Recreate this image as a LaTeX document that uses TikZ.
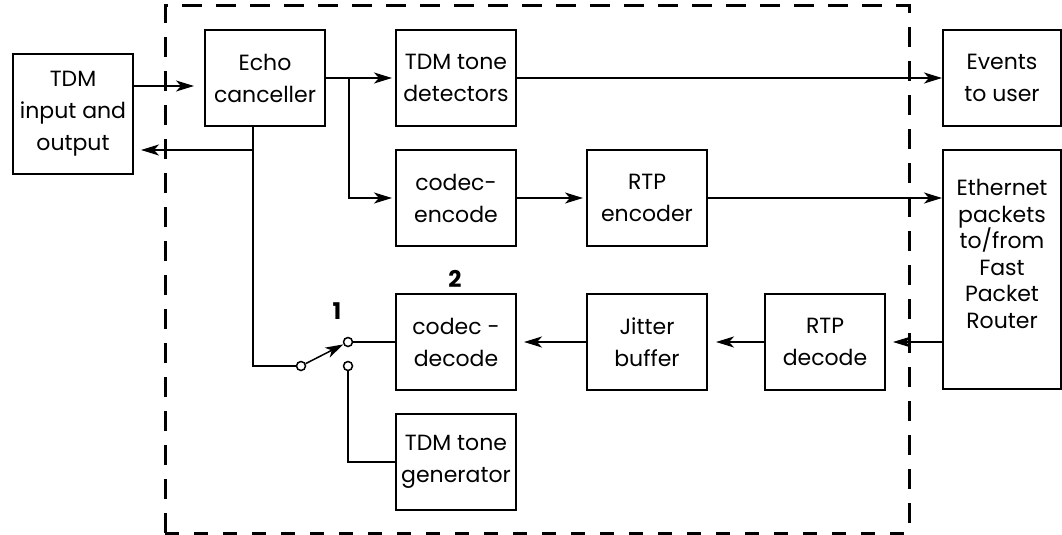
\documentclass[tikz,border=0pt]{standalone}
\usepackage{fontspec}
\setmainfont{Poppins}
\usetikzlibrary{arrows.meta}
\begin{document}
\begin{tikzpicture}[x=1pt,y=-1pt,line width=2pt,
  box/.style={draw,line width=2pt,minimum width=120pt,minimum height=96pt,align=center,inner sep=0pt,font=\fontsize{22}{32}\selectfont},
  arr/.style={-{Stealth[length=18pt,width=11pt,inset=5pt]}},
  contact/.style={circle,draw,fill=white,line width=1.5pt,minimum size=9pt,inner sep=0pt},
  numlabel/.style={font=\fontsize{23}{28}\selectfont\bfseries},
  frame/.style={line width=3pt,dash pattern=on 20pt off 14pt}]
\useasboundingbox (0,0) rectangle (1062,535);
% frame
\draw[frame] (165,533) -- (165,6) -- (909,6) -- (909,533);
\draw[line width=3pt,dash pattern=on 14pt off 15pt] (165,533) -- (909,533);
% boxes
\node[box,minimum height=120pt] (tdm) at (73,114) {TDM\\input and\\output};
\node[box] (echo) at (265,78) {Echo\\canceller};
\node[box] (det) at (456,78) {TDM tone\\detectors};
\node[box,minimum width=118pt] (events) at (1002,78) {Events\\to user};
\node[box,minimum width=118pt,minimum height=239pt] (eth) at (1002,269.5) {};
\node[align=center,inner sep=0pt,font=\fontsize{22}{26.5}\selectfont] (ethtext) at (1002,254) {Ethernet\\packets\\to/from\\Fast\\Packet\\Router};
\node[box] (enc) at (456,198) {codec-\\encode};
\node[box] (rtpenc) at (647,198) {RTP\\encoder};
\node[box] (dec) at (456,342) {codec -\\decode};
\node[box] (jit) at (647,342) {Jitter\\buffer};
\node[box] (rtpdec) at (825,342) {RTP\\decode};
\node[box] (gen) at (456,462) {TDM tone\\generator};
% switch
\node[contact] (piv) at (301,366) {};
\node[contact] (c1) at (348,342) {};
\node[contact] (c2) at (348,366) {};
\node[numlabel] (n1) at (337,311) {1};
\node[numlabel] (n2) at (455,279) {2};
% junctions
\coordinate (br) at (349,78);
\coordinate (ev) at (253,150);
\coordinate (sw) at (253,366);
% connectors
\draw[arr,shorten >=10pt] ([yshift=28pt]tdm.east) -- ([yshift=28pt]tdm.east -| echo.west);
\draw ([xshift=-12pt]echo.south) -- (sw) -- (piv);
\draw[arr,shorten >=7pt] (ev) -- (ev -| tdm.east);
\draw[arr,shorten >=3pt] (echo.east) -- (det.west);
\draw[arr,shorten >=3pt] (br) |- (enc.west);
\draw[arr] (det.east) -- (events.west);
\draw[arr,shorten >=3pt] (enc.east) -- (rtpenc.west);
\draw[arr] (rtpenc.east) -- (rtpenc.east -| eth.west);
\draw[arr,shorten >=7pt] (eth.west |- rtpdec.east) -- (rtpdec.east);
\draw[arr,shorten >=8pt] (rtpdec.west) -- (jit.east);
\draw[arr,shorten >=7pt] (jit.west) -- (dec.east);
\draw (dec.west) -- (c1);
\draw[arr,line width=1.5pt] (piv) -- (c1);
\draw (c2) |- (gen.west);
\end{tikzpicture}
\end{document}
